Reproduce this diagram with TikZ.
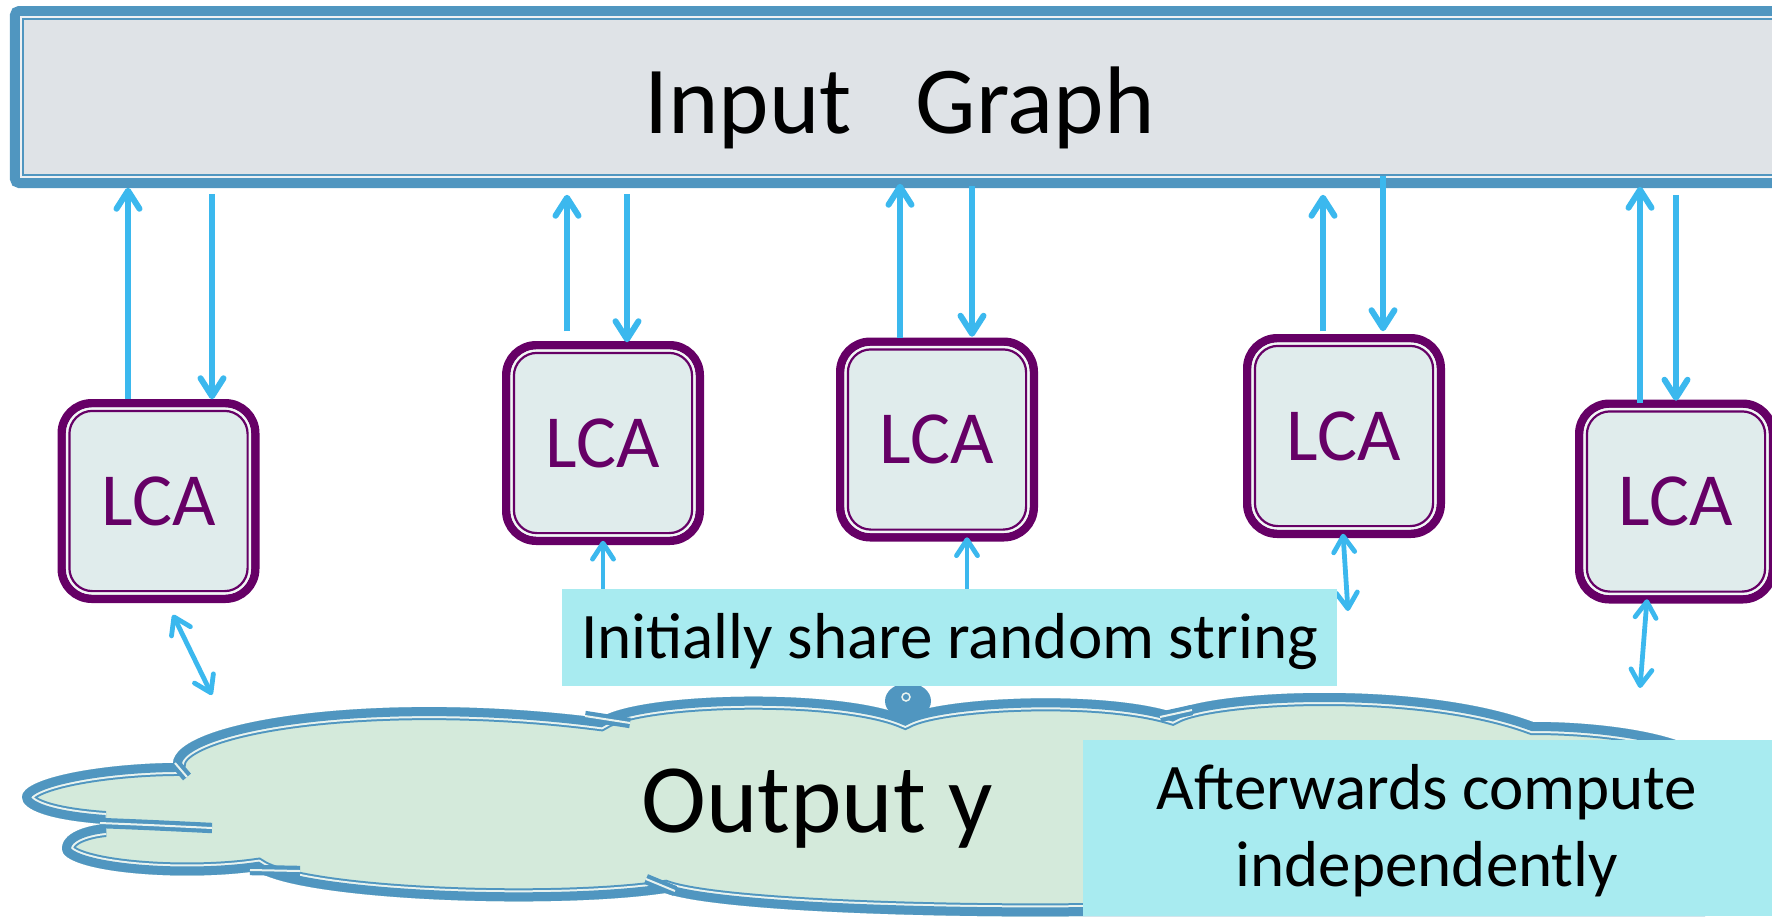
\documentclass[tikz,border=0pt]{standalone}
\usepackage{fontspec}
\setmainfont{Carlito}
\usetikzlibrary{arrows.meta}

\definecolor{framblue}{HTML}{5096C0}
\definecolor{graphfill}{HTML}{DFE3E7}
\definecolor{graphgap}{HTML}{EEF1F3}
\definecolor{lcapurple}{HTML}{660066}
\definecolor{lcafill}{HTML}{E0ECEC}
\definecolor{lcagap}{HTML}{F2F6F6}
\definecolor{linkblue}{HTML}{3BB8EE}
\definecolor{cloudfill}{HTML}{D4EADB}
\definecolor{gaplight}{HTML}{E9F3EF}
\definecolor{notefill}{HTML}{A8EBF0}

\begin{document}
\begin{tikzpicture}[x=1pt,y=-1pt,
  graphbox/.style={rectangle, draw=framblue, line width=10.5pt, fill=graphfill,
    rounded corners=4pt, minimum width=1774.75pt, minimum height=171.5pt,
    inner sep=0pt, outer sep=0pt},
  lca/.style={rectangle, rounded corners=30pt, draw=lcapurple, line width=8.5pt,
    fill=lcafill, minimum width=193.5pt, minimum height=195.5pt, inner sep=0pt,
    outer sep=0pt, text=lcapurple, font=\fontsize{75}{90}\selectfont},
  lcagapline/.style={draw=lcagap, line width=2.4pt, rounded corners=25pt},
  lcainner/.style={draw=lcapurple, line width=2.2pt, rounded corners=23pt},
  note/.style={rectangle, fill=notefill, inner sep=0pt, outer sep=0pt},
  link/.style={draw=linkblue, line width=6pt,
    -{Straight Barb[length=18pt,width=23pt,round]}},
  twoway/.style={draw=linkblue, line width=4.8pt,
    {Straight Barb[length=16pt,width=21pt,round]}-{Straight Barb[length=16pt,width=21pt,round]}},
  oneback/.style={draw=linkblue, line width=4.8pt,
    {Straight Barb[length=16pt,width=21pt,round]}-},
  stub/.style={draw=framblue, line width=4.2pt, double=gaplight, double distance=2pt},
]
\useasboundingbox (0,0) rectangle (1772,916);

% ---------- input graph bar ----------
\node[graphbox] (graph) at (902.6,97) {};
\draw[draw=graphgap, line width=1.6pt]
  ([xshift=6pt,yshift=-6pt]graph.north west) rectangle ([xshift=-6pt,yshift=6pt]graph.south east);
\draw[draw=framblue, line width=2pt]
  ([xshift=7.75pt,yshift=-7.75pt]graph.north west) rectangle ([xshift=-7.75pt,yshift=7.75pt]graph.south east);
\node[anchor=base, font=\fontsize{96}{110}\selectfont] (graphlabel) at (899.5,133)
  {Input\hspace{64pt}Graph};

% ---------- output cloud ----------
\def\cloudoutline{(173,763) .. controls (175,720) and (380,690) .. (600,718)
  .. controls (640,692) and (840,688) .. (905,716)
  .. controls (940,697) and (1100,690) .. (1172,712)
  .. controls (1210,690) and (1420,680) .. (1533,722)
  .. controls (1600,722) and (1665,732) .. (1695,748)
  -- (1705,916) -- (1090,916)
  .. controls (950,918) and (720,912) .. (665,893)
  .. controls (550,910) and (300,900) .. (257,871)
  .. controls (180,882) and (62,872) .. (62,849)
  .. controls (62,833) and (85,826) .. (105,824)
  .. controls (50,820) and (22,810) .. (22,797)
  .. controls (22,778) and (100,764) .. (173,763) -- cycle}
\fill[cloudfill] \cloudoutline;
\begin{scope}
  \clip \cloudoutline;
  \draw[framblue, line width=26pt] \cloudoutline;
  \draw[gaplight, line width=22pt] \cloudoutline;
  \draw[framblue, line width=18pt] \cloudoutline;
\end{scope}
% inner arcs where the lobes meet
\draw[stub] (175,763) -- (187,777);
\draw[stub] (100,823) .. controls (150,825) .. (212,828);
\draw[stub] (250,870) -- (300,871);
\draw[stub] (646,879) -- (675,891);
\draw[stub] (585,716) -- (630,723);
\draw[stub] (1160,717) -- (1192,710);
% small bubble on the rim
\fill[framblue] (908,701) ellipse [x radius=23pt, y radius=18pt];
\draw[gaplight, line width=1.5pt] (906,697) circle [radius=4pt];

\node[anchor=base, font=\fontsize{98}{110}\selectfont] (outlabel) at (817,832) {Output y};

% ---------- LCA boxes ----------
\node[lca] (lca1) at (158.5,501) {LCA};
\node[lca] (lca2) at (603,443) {LCA};
\node[lca] (lca3) at (937,439.5) {LCA};
\node[lca] (lca4) at (1344,436) {LCA};
\node[lca] (lca5) at (1676,501.5) {LCA};
\foreach \b in {lca1,lca2,lca3,lca4,lca5}{
  \draw[lcagapline] ([xshift=5.4pt,yshift=-5.4pt]\b.north west) rectangle ([xshift=-5.4pt,yshift=5.4pt]\b.south east);
  \draw[lcainner] ([xshift=7.65pt,yshift=-7.65pt]\b.north west) rectangle ([xshift=-7.65pt,yshift=7.65pt]\b.south east);
}

% ---------- queries to the graph and answers ----------
\draw[link, shorten <=4pt, shorten >=5pt] ([xshift=-30.5pt]lca1.north) -- ([xshift=-30.5pt]lca1.north |- graph.south);
\draw[link, shorten <=11pt, shorten >=4pt] ([xshift=53.5pt]lca1.north |- graph.south) -- ([xshift=53.5pt]lca1.north);

\draw[link, shorten <=14pt, shorten >=12pt] ([xshift=-36pt]lca2.north) -- ([xshift=-36pt]lca2.north |- graph.south);
\draw[link, shorten <=11pt, shorten >=3pt] ([xshift=24pt]lca2.north |- graph.south) -- ([xshift=24pt]lca2.north);

\draw[link, shorten <=4pt, shorten >=1pt] ([xshift=-37pt]lca3.north) -- ([xshift=-37pt]lca3.north |- graph.south);
\draw[link, shorten <=3pt, shorten >=5pt] ([xshift=35pt]lca3.north |- graph.south) -- ([xshift=35pt]lca3.north);

\draw[link, shorten <=7pt, shorten >=12pt] ([xshift=-21pt]lca4.north) -- ([xshift=-21pt]lca4.north |- graph.south);
\draw[link, shorten <=-7pt, shorten >=7pt] ([xshift=39pt]lca4.north |- graph.south) -- ([xshift=39pt]lca4.north);

\draw[link, shorten <=1pt, shorten >=4pt] ([xshift=-36pt]lca5.north) -- ([xshift=-36pt]lca5.north |- graph.south);
\draw[link, shorten <=12pt, shorten >=3pt] (lca5.north |- graph.south) -- (lca5.north);

% ---------- exchange with the output ----------
\coordinate (out1) at (212,695);
\coordinate (out4) at (1348,611);
\coordinate (out5) at (1640,688);
\draw[twoway, shorten <=17.8pt] ([xshift=6.6pt]lca1.south) -- (out1);
\draw[twoway] ([xshift=-1pt]lca4.south) -- (out4);
\draw[twoway] ([xshift=-29pt]lca5.south) -- (out5);

% ---------- notes ----------
\node[note, minimum width=775pt, minimum height=97pt, text height=41pt, text depth=0pt,
  font=\fontsize{65}{78}\selectfont] (share) at (949.5,637.5) {Initially share random string};
\draw[oneback] (lca2.south) -- (lca2.south |- share.north);
\draw[oneback] ([xshift=30pt]lca3.south) -- ([xshift=30pt]lca3.south |- share.north);

\node[note, minimum width=689pt, minimum height=176pt] (after) at (1427.5,828) {};
\node[anchor=base, align=center, font={\fontsize{65}{77}\selectfont\lineskiplimit=-100pt}]
  (afterlabel) at (1427,886) {Afterwards compute\\independently};
\end{tikzpicture}
\end{document}
